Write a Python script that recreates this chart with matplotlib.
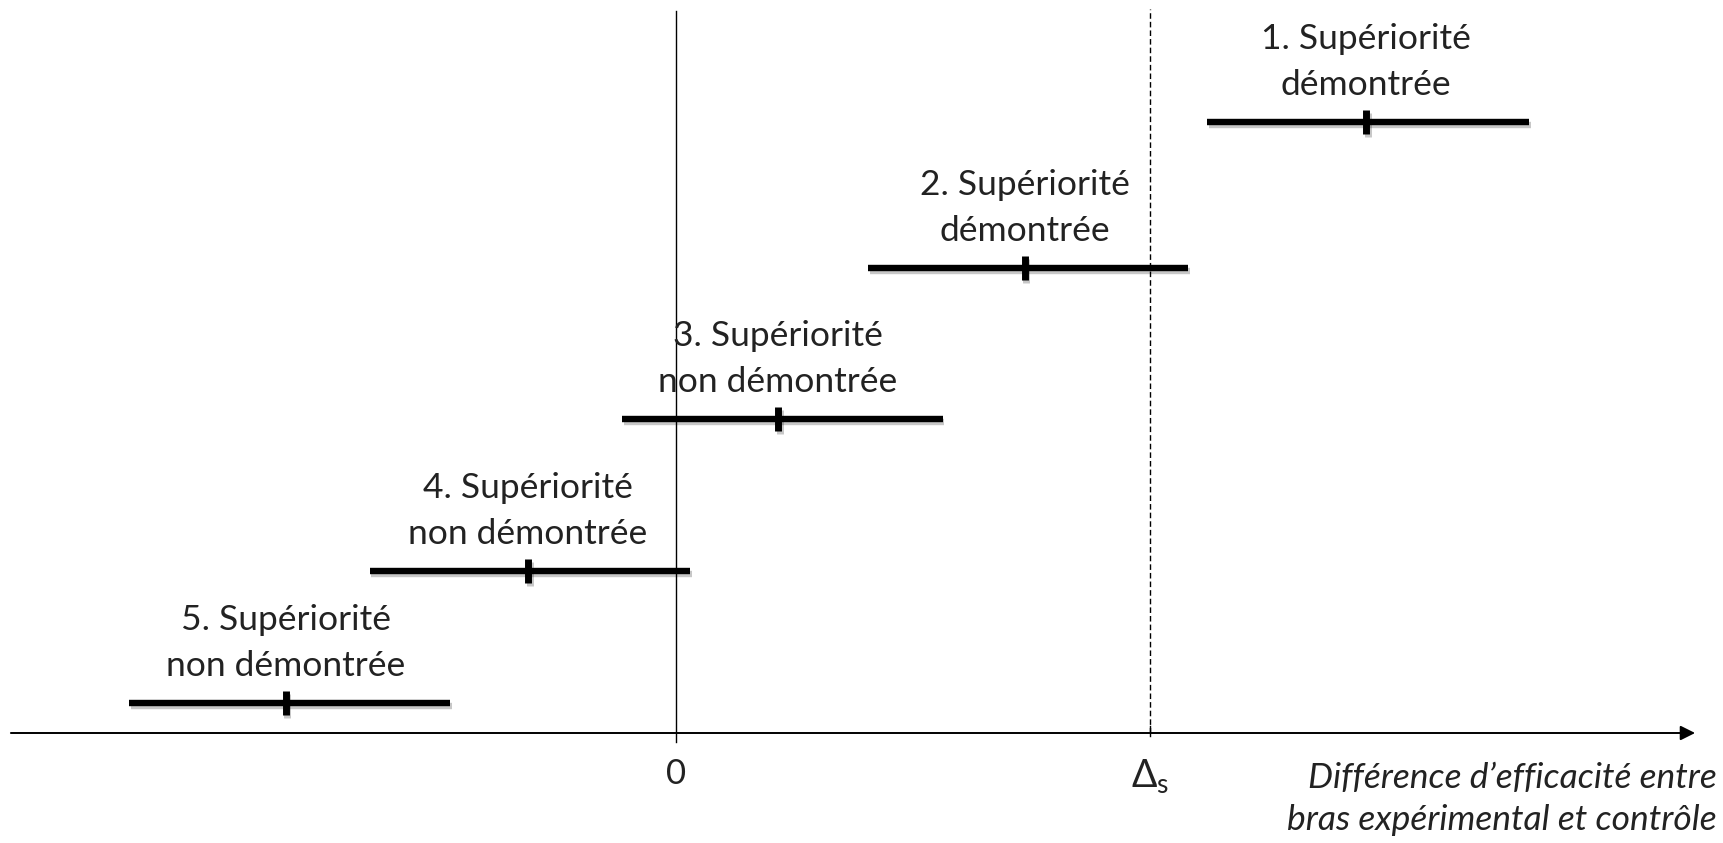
import matplotlib
matplotlib.use('Agg')
import matplotlib.pyplot as plt
import matplotlib.patheffects as pe

# intervals, in units of the superiority margin (delta_s = 1)
labels = ['1. Supériorité\ndémontrée',
          '2. Supériorité\ndémontrée',
          '3. Supériorité\nnon démontrée',
          '4. Supériorité\nnon démontrée',
          '5. Supériorité\nnon démontrée']
low = [1.12, 0.405, -0.114, -0.646, -1.154]
high = [1.80, 1.08, 0.563, 0.03, -0.476]
point = [1.456, 0.736, 0.215, -0.312, -0.823]
level = [6.11, 4.65, 3.14, 1.62, 0.30]

delta_s = 1.0
tick_labels = ['0', r'$\mathregular{\Delta_s}$']
x_title = 'Différence d\u2019efficacité entre\nbras expérimental et contrôle'

plt.rcParams['font.family'] = ['Lato', 'DejaVu Sans']
text_color = '#222222'

fig = plt.figure(figsize=(17.24, 8.43), dpi=100)
ax = fig.add_axes([0, 0, 1, 1])
ax.set_xlim(-1.426, 2.211)
ax.set_ylim(-1.10, 7.33)
ax.axis('off')

# horizontal axis with arrow
ax.annotate('', xy=(2.15, 0), xytext=(-1.403, 0),
            arrowprops=dict(arrowstyle='-|>', mutation_scale=22, lw=1.4,
                            color='black', shrinkA=0, shrinkB=0))

# vertical line at zero and dashed margin line
ax.plot([0, 0], [-0.09, 7.22], color='black', lw=1.0)
ax.plot([delta_s, delta_s], [0, 7.24], color='black', lw=1.0, ls=(0, (4, 2.2)))
ax.plot([delta_s, delta_s], [-0.03, 0.07], color='black', lw=1.0)

ax.text(0, -0.41, tick_labels[0], ha='center', va='center', fontsize=25,
        color=text_color)
ax.text(delta_s, -0.43, tick_labels[1], ha='center', va='center', fontsize=27,
        color=text_color)

ax.text(2.195, -0.66, x_title, ha='right', va='center', fontsize=25.5,
        style='italic', color=text_color, linespacing=1.36)

shadow = [pe.SimpleLineShadow(offset=(1.2, -2.2), alpha=0.22), pe.Normal()]
for lab, lo, hi, pt, lv in zip(labels, low, high, point, level):
    ax.plot([lo, hi], [lv, lv], color='black', lw=4.6,
            solid_capstyle='butt', path_effects=shadow)
    ax.plot([pt], [lv], marker='|', markersize=17, mew=5, color='black',
            path_effects=shadow)
    ax.annotate(lab, xy=(pt, lv), xytext=(0, 43), textcoords='offset points',
                ha='center', va='center', fontsize=25.5, color=text_color,
                linespacing=1.55)

fig.savefig('out.png', dpi=100)
